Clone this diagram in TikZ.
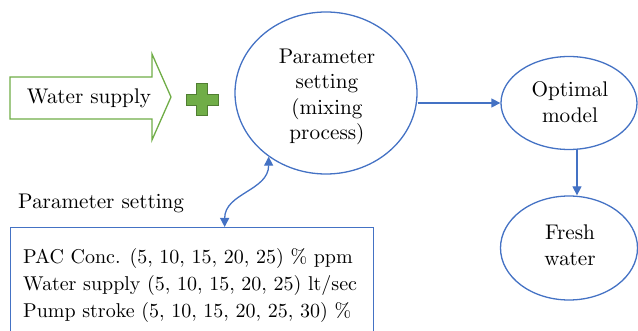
\documentclass[tikz,border=0pt]{standalone}
\usetikzlibrary{shapes.geometric,arrows.meta}
\definecolor{wblue}{HTML}{4472C4}
\definecolor{wgreen}{HTML}{70AD47}
\definecolor{wdkgreen}{HTML}{507E32}
\font\bigrm=cmr10 at 21.2pt
\font\boxrm=cmr10 at 20pt
\begin{document}
\begin{tikzpicture}[x=1pt,y=-1pt,
 oval/.style={ellipse, draw=wblue, line width=1.3pt, inner sep=0pt},
 ovaltxt/.style={inner sep=0pt, align=center, font=\fontsize{21.2}{25.5}\selectfont\bigrm},
 conn/.style={draw=wblue, line width=1.3pt, -{Triangle[length=9pt,width=9pt]}},
 dconn/.style={draw=wblue, line width=1.3pt, {Triangle[length=9pt,width=9pt]}-{Triangle[length=9pt,width=9pt]}},
 lbl/.style={inner sep=0pt, font=\fontsize{21.2}{25.5}\selectfont\bigrm},
 boxtxt/.style={inner sep=0pt, align=left, font=\fontsize{20}{27}\selectfont\boxrm},
]
\useasboundingbox (0,0) rectangle (638,331);
\clip (0,0) rectangle (638,331);
% block arrow
\draw[wgreen, line width=1.3pt, fill=white] (10,77) -- (152,77) -- (152,54) -- (171,97) -- (152,140) -- (152,119) -- (10,119) -- cycle;
\node[lbl] (ws) at (89,98) {Water supply};
% plus
\draw[wdkgreen, line width=1pt, fill=wgreen] (196.5,84) -- (207.5,84) -- (207.5,94.5) -- (218,94.5) -- (218,105.5) -- (207.5,105.5) -- (207.5,116) -- (196.5,116) -- (196.5,105.5) -- (186,105.5) -- (186,94.5) -- (196.5,94.5) -- cycle;
% ellipses
\node[oval, minimum width=182, minimum height=162] (p1) at (326,93) {};
\node[ovaltxt] (p1t) at (327,97) {Parameter\\setting\\(mixing\\process)};
\node[oval, minimum width=136, minimum height=93] (om) at (569,103) {};
\node[ovaltxt] (omt) at (570,102) {Optimal\\model};
\node[oval, minimum width=137, minimum height=104] (fw) at (569,248) {};
\node[ovaltxt] (fwt) at (570,245) {Fresh\\water};
% parameter box
\node[lbl, anchor=west] (pslbl) at (18,203) {Parameter setting};
\node[draw=wblue, line width=1.3pt, anchor=north west, minimum width=363, minimum height=130, inner sep=0pt] (pbox) at (10,227) {};
\node[boxtxt, anchor=west] (ptxt) at (23,286) {PAC Conc. (5, 10, 15, 20, 25) \% ppm\\Water supply (5, 10, 15, 20, 25) lt/sec\\Pump stroke (5, 10, 15, 20, 25, 30) \%};
% connectors
\draw[conn] (p1.east |- om.west) -- (om.west);
\draw[conn] ([xshift=8pt]om.south) -- ([xshift=8pt]fw.north);
\draw[dconn] ([xshift=32.5pt]pbox.north) .. controls +(0,-34) and +(0,34) .. (p1.228);
\end{tikzpicture}
\end{document}
